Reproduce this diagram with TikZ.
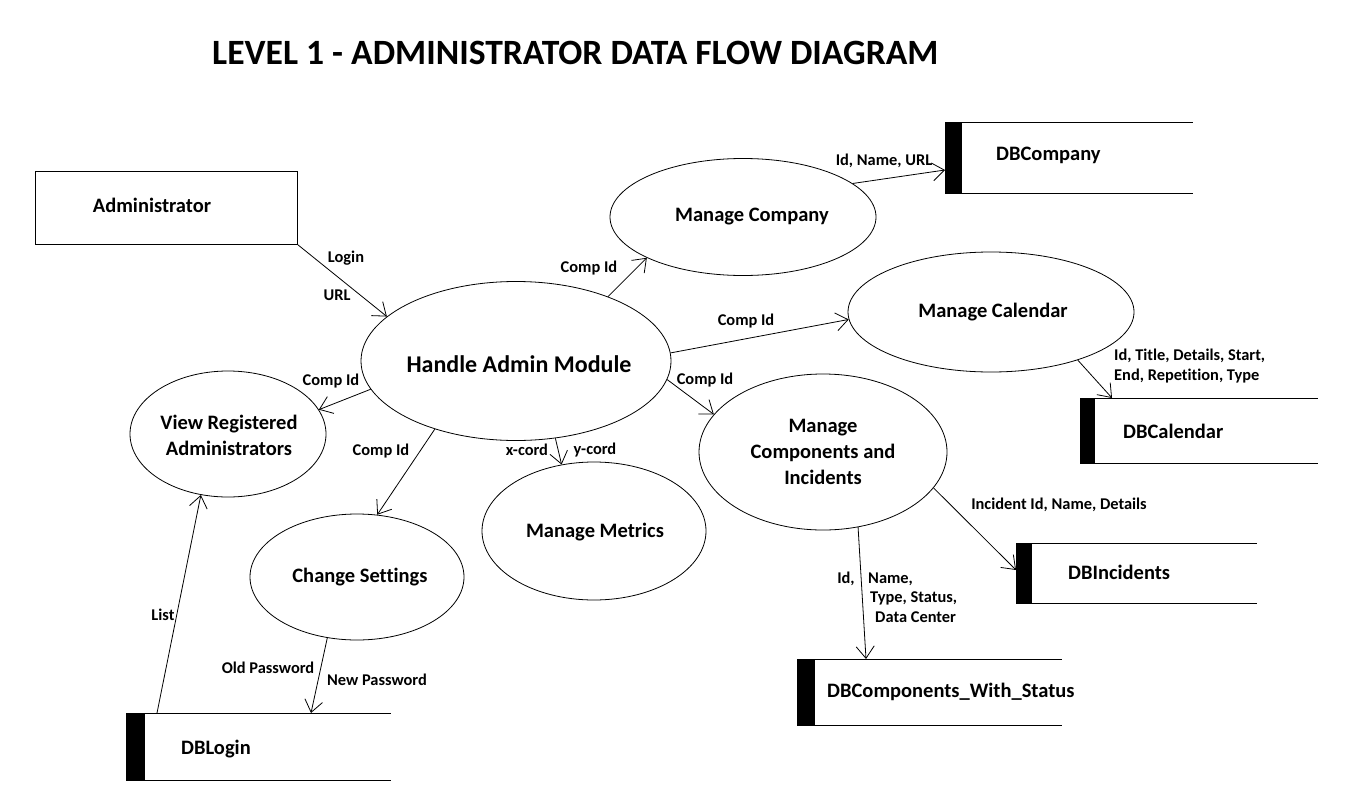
\documentclass[tikz,border=0pt]{standalone}
\usepackage{fontspec}
\setmainfont{Carlito}[Ligatures=NoCommon]
\usetikzlibrary{shapes.geometric,arrows.meta,calc}
\tikzset{
  proc/.style={draw, ellipse, line width=0.8pt, inner sep=0pt},
  ptext/.style={inner sep=0pt, align=center, font=\bfseries\fontsize{20.5}{26}\selectfont},
  extent/.style={draw, rectangle, line width=0.8pt, inner sep=0pt},
  storebox/.style={rectangle, inner sep=0pt, anchor=north west},
  storetext/.style={anchor=west, inner sep=0pt, font=\bfseries\fontsize{20.5}{26}\selectfont},
  flow/.style={line width=0.8pt, -{Straight Barb[length=12pt,width=18pt,line width=0.8pt]}},
  lbl/.style={inner sep=0pt, font=\bfseries\fontsize{16.4}{20}\selectfont},
  lblw/.style={lbl, anchor=west},
}
\begin{document}
\begin{tikzpicture}[x=1pt,y=-1pt]
\useasboundingbox[fill=white] (0,0) rectangle (1348,800);
% title
\node[anchor=west, inner sep=0pt, font=\bfseries\fontsize{35.6}{42}\selectfont] (title) at (212,53) {LEVEL 1 - ADMINISTRATOR DATA FLOW DIAGRAM};
% external entity
\node[extent, minimum width=262pt, minimum height=73pt] (admin) at (166,207.5) {};
\node[ptext] (admintext) at (152,205) {Administrator};
% processes
\node[proc, minimum width=310pt, minimum height=159pt] (handle) at (516,361) {};
\node[proc, minimum width=266pt, minimum height=117pt] (company) at (743,217) {};
\node[proc, minimum width=286pt, minimum height=120pt] (calendar) at (991,312) {};
\node[proc, minimum width=248pt, minimum height=156pt] (components) at (823,452) {};
\node[proc, minimum width=224pt, minimum height=138pt] (metrics) at (594,531) {};
\node[proc, minimum width=214pt, minimum height=126pt] (settings) at (357,577) {};
\node[proc, minimum width=196pt, minimum height=126pt] (viewreg) at (228,434) {};
\node[ptext, font=\bfseries\fontsize{24}{30}\selectfont] (handlet) at (519,364) {Handle Admin Module};
\node[ptext] (companyt) at (752,217) {Manage Company};
\node[ptext] (calendart) at (993,312) {Manage Calendar};
\node[ptext] (componentst) at (823,452) {Manage\\Components and\\Incidents};
\node[ptext] (metricst) at (595,532) {Manage Metrics};
\node[ptext] (settingst) at (360,577) {Change Settings};
\node[ptext] (viewregt) at (229,435) {View Registered\\Administrators};
% data stores
\node[storebox, minimum width=248pt, minimum height=71pt] (dbcomp) at (945,122) {};
\node[storebox, minimum width=238pt, minimum height=65pt] (dbcal) at (1080,398) {};
\node[storebox, minimum width=241pt, minimum height=60pt] (dbinc) at (1016,543) {};
\node[storebox, minimum width=265pt, minimum height=66pt] (dbcs) at (797,659) {};
\node[storebox, minimum width=265pt, minimum height=67pt] (dblogin) at (126,713) {};
\foreach \s/\w in {dbcomp/17,dbcal/15,dbinc/16,dbcs/18,dblogin/19}{
  \fill (\s.north west) rectangle ([xshift=\w pt]\s.south west);
  \draw[line width=0.9pt] (\s.north west) -- (\s.north east);
  \draw[line width=0.9pt] (\s.south west) -- (\s.south east);
}
\node[storetext] (dbcompt) at (996,155) {DBCompany};
\node[storetext] (dbcalt) at (1123,431) {DBCalendar};
\node[storetext] (dbinct) at (1068,572) {DBIncidents};
\node[storetext] (dbcst) at (827,692) {DBComponents\_With\_Status};
\node[storetext] (dblogint) at (181,749) {DBLogin};
% flows
\draw[flow] (admin.south east) -- (handle.161.4);
\draw[flow] (handle.35.5) -- (company.203.6);
\draw[flow] (handle.3.7) -- (calendar.183.2);
\draw[flow] (handle.-7.1) -- (components.161.1);
\draw[flow] (handle.191.3) -- (viewreg.15.8);
\draw[flow] (handle.220.8) -- (settings.72.4);
\draw[flow] (handle.-63.1) -- (metrics.116.9);
\draw[flow] (company.17) -- ([yshift=-48pt]dbcomp.north west);
\draw[flow] (calendar.-29.4) -- ([xshift=32pt]dbcal.north west);
\draw[flow] (components.-18.7) -- ([yshift=-27pt]dbinc.north west);
\draw[flow] (components.-65.2) -- ([xshift=69pt]dbcs.north west);
\draw[flow] ([xshift=31pt]dblogin.north west) -- (viewreg.246.9);
\draw[flow] (settings.244.6) -- ([xshift=185pt]dblogin.north west);
% labels
\node[lbl] (l1) at (346,258) {Login};
\node[lbl] (l2) at (337,295) {URL};
\node[lbl] (l3) at (589,268) {Comp Id};
\node[lbl] (l4) at (746,321) {Comp Id};
\node[lbl] (l5) at (705,380) {Comp Id};
\node[lbl] (l6) at (331,381) {Comp Id};
\node[lbl] (l7) at (381,451) {Comp Id};
\node[lbl] (l8) at (527,450) {x-cord};
\node[lbl] (l9) at (595,450) {y-cord};
\node[lbl] (l10) at (884,161) {Id, Name, URL};
\node[lblw] (l11) at (1114,356) {Id, Title, Details, Start,};
\node[lblw] (l12) at (1114,376) {End, Repetition, Type};
\node[lbl] (l13) at (1059,505) {Incident Id, Name, Details};
\node[lbl] (l14) at (846,579) {Id,};
\node[lblw] (l15) at (868,579) {Name,};
\node[lblw] (l16) at (870,598) {Type, Status,};
\node[lblw] (l17) at (875,617) {Data Center};
\node[lbl] (l18) at (163,615) {List};
\node[lbl] (l19) at (268,668) {Old Password};
\node[lbl] (l20) at (377,680) {New Password};
\end{tikzpicture}
\end{document}
